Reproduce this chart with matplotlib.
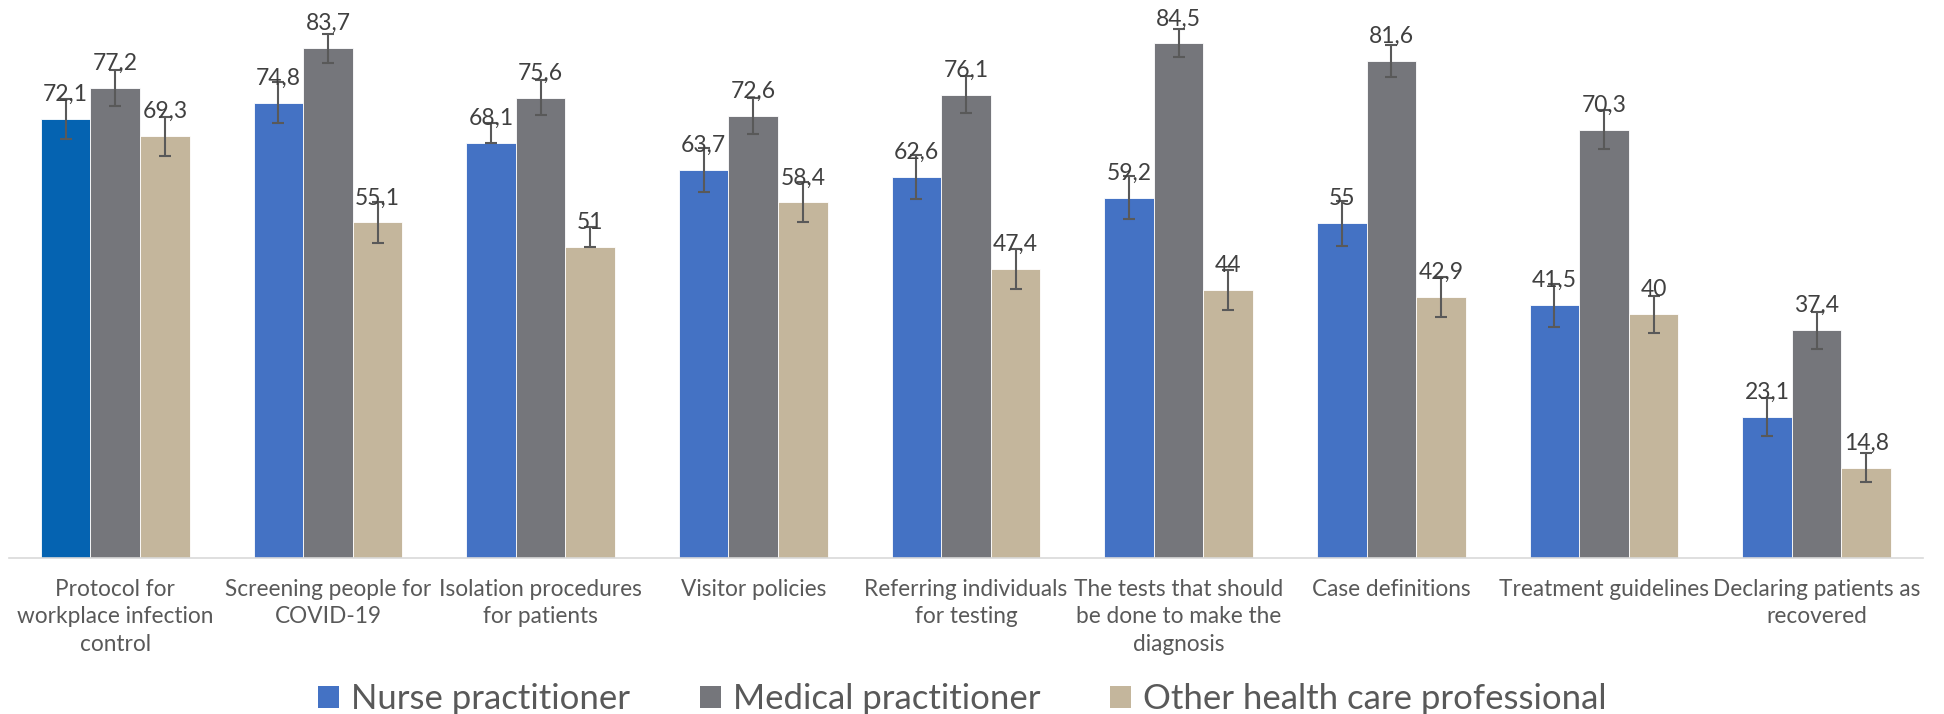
import matplotlib
matplotlib.use("Agg")
import matplotlib.pyplot as plt
from matplotlib.patches import Patch
import numpy as np

# data
categories = [
    "Protocol for\nworkplace infection\ncontrol",
    "Screening people for\nCOVID-19",
    "Isolation procedures\nfor patients",
    "Visitor policies",
    "Referring individuals\nfor testing",
    "The tests that should\nbe done to make the\ndiagnosis",
    "Case definitions",
    "Treatment guidelines",
    "Declaring patients as\nrecovered",
]
series_names = ["Nurse practitioner", "Medical practitioner", "Other health care professional"]
nurse = [72.1, 74.8, 68.1, 63.7, 62.6, 59.2, 55.0, 41.5, 23.1]
medical = [77.2, 83.7, 75.6, 72.6, 76.1, 84.5, 81.6, 70.3, 37.4]
other = [69.3, 55.1, 51.0, 58.4, 47.4, 44.0, 42.9, 40.0, 14.8]

# error bars (upper, lower)
nurse_err_up = [3.3, 3.3, 3.3, 3.6, 3.6, 3.6, 3.7, 3.5, 3.1]
nurse_err_lo = [3.3, 3.3, 0.0, 3.6, 3.6, 3.6, 3.7, 3.5, 3.1]
medical_err_up = [2.9, 2.4, 2.9, 2.9, 3.0, 2.3, 2.6, 3.2, 3.0]
medical_err_lo = [2.9, 2.4, 2.9, 2.9, 3.0, 2.3, 2.6, 3.2, 3.0]
other_err_up = [3.2, 3.4, 3.3, 3.3, 3.3, 3.3, 3.3, 3.1, 2.4]
other_err_lo = [3.2, 3.4, 0.0, 3.3, 3.3, 3.3, 3.3, 3.1, 2.4]

colors = ["#4472C4", "#75767B", "#C4B69C"]
first_bar_color = "#0563B1"

plt.rcParams["font.family"] = ["Lato", "DejaVu Sans"]

fig = plt.figure(figsize=(19.44, 7.14), dpi=100)
ax = fig.add_axes([0.0046, 0.2185, 0.9846, 0.7675])

x = np.arange(len(categories))
w = 0.2333
values = [nurse, medical, other]
errs = [(nurse_err_lo, nurse_err_up), (medical_err_lo, medical_err_up), (other_err_lo, other_err_up)]

for j in range(3):
    pos = x + (j - 1) * w
    cols = [colors[j]] * len(categories)
    if j == 0:
        cols[0] = first_bar_color
    ax.bar(pos, values[j], width=w, color=cols, edgecolor="white", linewidth=0.6, zorder=2)
    ax.errorbar(pos, values[j], yerr=[errs[j][0], errs[j][1]], fmt="none",
                ecolor="#595959", elinewidth=1.5, capsize=4.5, capthick=1.5, zorder=3)
    for px, v in zip(pos, values[j]):
        lab = f"{v:g}".replace(".", ",")
        ax.annotate(lab, (px, v), xytext=(0, 13), textcoords="offset points",
                    ha="center", va="baseline", fontsize=16.5, color="#404040", zorder=4)

ax.set_xlim(-0.5, len(categories) - 0.5)
ax.set_ylim(0, 90)
ax.set_xticks(x)
ax.set_xticklabels(categories, fontsize=16.3, color="#595959", linespacing=1.38)
ax.tick_params(axis="x", length=0, pad=15)
ax.set_yticks([])
for s in ["top", "right", "left"]:
    ax.spines[s].set_visible(False)
ax.spines["bottom"].set_color("#D9D9D9")
ax.spines["bottom"].set_linewidth(1.2)

handles = [Patch(facecolor=c) for c in colors]
fig.legend(handles, series_names, loc="center", bbox_to_anchor=(0.495, 0.021),
           ncol=3, frameon=False, fontsize=25, labelcolor="#595959",
           handlelength=0.6, handleheight=0.6, handletextpad=0.35, columnspacing=2.0)

fig.savefig("out.png", dpi=100)
